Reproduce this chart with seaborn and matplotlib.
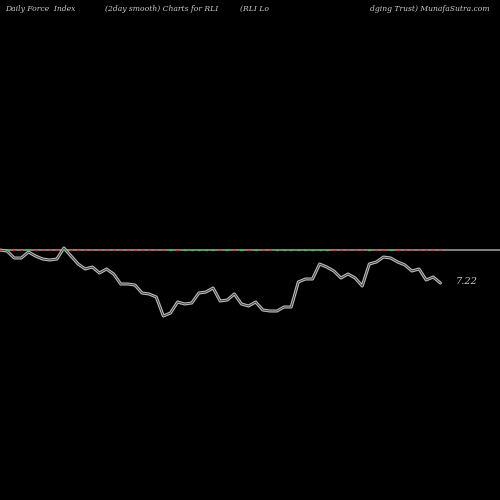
import numpy as np
import pandas as pd
import seaborn as sns
import matplotlib.pyplot as plt

# force index (2 day smooth) in pixel-ish units below zero line
force = [0, -1, -8, -8, -2, -6, -9, -10, -9, 2, -6, -14, -19, -17, -23, -19, -24, -34,
         -34, -35, -43, -44, -47, -66, -63, -52, -54, -53, -43, -42, -38, -51, -50, -44,
         -54, -56, -52, -60, -61, -61, -57, -57, -32, -29, -29, -14, -17, -21, -28, -24,
         -28, -36, -14, -12, -7, -8, -12, -15, -21, -19, -30, -27, -33]
# small up/down markers on the zero line
ticks = ['r', 'g', 'r', 'r', 'g', 'r', 'r', 'r', 'r', 'g', 'r', 'r', 'r', 'r', 'r', 'r', 'r', 'r',
         'r', 'r', 'r', 'r', 'r', 'r', 'g', 'r', 'g', 'g', 'g', 'g', 'g', 'r', 'g', 'r',
         'g', 'r', 'g', 'r', 'r', 'g', 'g', 'g', 'g', 'g', 'g', 'g', 'g', 'r', 'r', 'r',
         'r', 'r', 'g', 'r', 'r', 'g', 'r', 'r', 'r', 'r', 'r', 'r', 'r']
last_label = '7.22'

df = pd.DataFrame({'i': np.arange(len(force)), 'v': force, 'c': ticks})

sns.set_style('dark')
plt.rcParams['font.family'] = ['DejaVu Serif']
fig = plt.figure(figsize=(5, 5), dpi=100, facecolor='black')
ax = fig.add_axes([0, 0, 1, 1])
ax.set_facecolor('black')
ax.axhline(0, color='#999999', lw=1.2)
sns.lineplot(data=df, x='i', y='v', ax=ax, color='#bbbbbb', lw=2.2)
sns.lineplot(data=df, x='i', y='v', ax=ax, color='#333333', lw=0.6)
for _, r in df.iterrows():
    col = '#e03030' if r.c == 'r' else '#30d030'
    ax.plot([r.i - 0.15, r.i + 0.15], [0, 0], color=col, lw=1)
ax.text(len(force) + 1.2, force[-1] + 2, last_label, color='#cccccc', fontsize=7,
        va='center', style='italic')
ax.set_xlim(0, 70.4)
ax.set_ylim(-250, 250)
ax.axis('off')
for x, t in [(5, 'Daily Force  Index'), (105, '(2day smooth) Charts for RLI'),
             (240, '(RLI Lo'), (370, 'dging Trust) MunafaSutra.com')]:
    fig.text(x / 500, 1 - 9 / 500, t, color='#cccccc', fontsize=5.5, style='italic', va='center')
fig.savefig('out.png', dpi=100, facecolor='black')
